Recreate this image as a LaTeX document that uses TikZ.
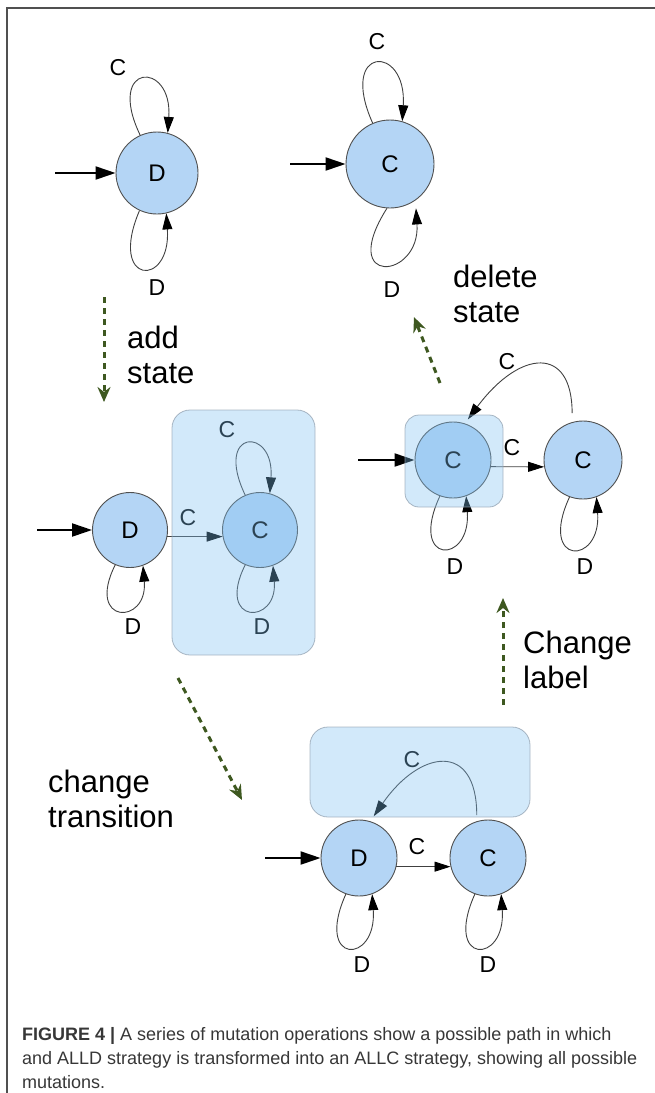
\documentclass[tikz,border=0pt]{standalone}
\usepackage{fontspec}
\setmainfont{Liberation Sans}
\usetikzlibrary{arrows.meta}

\definecolor{statefill}{RGB}{180,213,245}
\definecolor{stateline}{RGB}{80,80,80}
\definecolor{boxfill}{RGB}{126,192,240}
\definecolor{boxline}{RGB}{150,165,180}
\definecolor{movegreen}{RGB}{62,88,32}
\definecolor{captext}{RGB}{55,55,55}
\definecolor{framegray}{RGB}{80,80,80}

\tikzset{
  state/.style={circle,draw=stateline,line width=0.9pt,fill=statefill,inner sep=0pt,minimum size=76pt,font=\fontsize{24}{24}\selectfont},
  tag/.style={inner sep=0pt,font=\fontsize{23}{23}\selectfont},
  edge/.style={draw=black!75,line width=0.9pt,-{Triangle[length=16pt,width=10pt,color=black]}},
  start/.style={line width=2pt,-{Triangle[length=20pt,width=13pt]}},
  move/.style={draw=movegreen,line width=3pt,dash pattern=on 6pt off 5pt,-{Stealth[length=15pt,width=13pt,inset=5pt]}},
  oplabel/.style={inner sep=0pt,align=left,anchor=base west,font=\fontsize{31}{35}\selectfont},
  hilite/.style={draw=boxline,fill=boxfill,fill opacity=0.35,draw opacity=0.8,line width=0.8pt,rounded corners=18pt},
  caption/.style={inner sep=0pt,anchor=north west,align=left,text=captext,font=\fontsize{18}{24}\selectfont},
  frame/.style={draw=framegray,line width=1.5pt}
}

\begin{document}
\begin{tikzpicture}[x=1pt,y=-1pt]
\useasboundingbox (0,0) rectangle (655,1093);
\draw[frame] (7,1093) -- (7,8) -- (655,8);

\node[state,minimum size=82pt] (aD) at (157,173) {D};
\node[state,minimum size=88pt] (eC) at (390,164) {C};
\node[state,minimum size=75pt] (bD) at (130,530) {D};
\node[state,minimum size=75pt] (bC) at (260,530) {C};
\node[state] (dC1) at (453,460) {C};
\node[state,minimum size=78pt] (dC2) at (583,460) {C};
\node[state] (cD) at (359,858) {D};
\node[state] (cC) at (488,858) {C};

\coordinate (aIn) at (55,173);
\coordinate (eIn) at (290,164);
\coordinate (bIn) at (37,530);
\coordinate (dIn) at (358,460);
\coordinate (cIn) at (265,858);
\draw[start] (aIn) -- (aD);
\draw[start] (eIn) -- (eC);
\draw[start] (bIn) -- (bD);
\draw[start] (dIn) -- (dC1);
\draw[start] (cIn) -- (cD);

\draw[edge] (aD.114) .. controls +(-35,-73) and +(5,-73) .. (aD.75);
\draw[edge] (aD.245) .. controls +(-32,75) and +(5,75) .. (aD.283);
\draw[edge] (eC.113) .. controls +(-35,-78) and +(5,-78) .. (eC.74);
\draw[edge,shorten >=8pt] (eC.266) .. controls +(-50,79) and +(5,79) .. (eC.305);
\draw[edge] (bD.247) .. controls +(-30,60) and +(5,60) .. (bD.290);
\draw[edge] (bC.113) .. controls +(-32,-67) and +(5,-67) .. (bC.75);
\draw[edge] (bC.247) .. controls +(-30,60) and +(5,60) .. (bC.290);
\draw[edge] (dC1.250) .. controls +(-32,69) and +(5,69) .. (dC1.290);
\draw[edge] (dC2.250) .. controls +(-32,69) and +(5,69) .. (dC2.290);
\draw[edge] (cD.250) .. controls +(-32,71) and +(5,71) .. (cD.290);
\draw[edge] (cC.250) .. controls +(-32,71) and +(5,71) .. (cC.290);

\draw[edge] (bD.-10) -- (bC.190);
\draw[edge] (dC1.-10) -- (dC2.190);
\draw[edge] (cD.-13) -- (cC.193);
\draw[edge,shorten <=9pt,shorten >=5pt] (dC2.106) .. controls +(0,-77) and +(55,-74) .. (dC1.72);
\draw[edge,shorten <=6pt,shorten >=6pt] (cC.107) .. controls +(0,-80) and +(50,-72) .. (cD.73);

\node[tag] (aDc) at (118,68) {C};
\node[tag] (aDd) at (157,288) {D};
\node[tag] (eCc) at (377,42) {C};
\node[tag] (eCd) at (392,290) {D};
\node[tag] (bDd) at (133,627) {D};
\node[tag] (bDC) at (188,518) {C};
\node[tag] (bCc) at (227,430) {C};
\node[tag] (bCd) at (262,627) {D};
\node[tag] (dC1d) at (455,567) {D};
\node[tag] (dC2d) at (585,567) {D};
\node[tag] (dCC) at (512,448) {C};
\node[tag] (dCb) at (507,362) {C};
\node[tag] (cDd) at (362,965) {D};
\node[tag] (cCd) at (488,965) {D};
\node[tag] (cDC) at (417,847) {C};
\node[tag] (cCb) at (412,760) {C};

\draw[hilite] (172,410) rectangle (315,655);
\draw[hilite,rounded corners=14pt] (405,415) rectangle (503,507);
\draw[hilite] (310,727) rectangle (530,817);

\coordinate (m1a) at (104,297);
\coordinate (m1b) at (104,402);
\coordinate (m2a) at (178,678);
\coordinate (m2b) at (242,800);
\coordinate (m3a) at (503,705);
\coordinate (m3b) at (503,598);
\coordinate (m4a) at (440,383);
\coordinate (m4b) at (414,317);
\draw[move] (m1a) -- (m1b);
\draw[move] (m2a) -- (m2b);
\draw[move] (m3a) -- (m3b);
\draw[move] (m4a) -- (m4b);

\node[oplabel] (addop) at (127,383) {add\\state};
\node[oplabel] (delop) at (453,322) {delete\\state};
\node[oplabel] (lblop) at (523,688) {Change\\label};
\node[oplabel] (trop) at (48,827) {change\\transition};

\node[caption] (cap) at (22,1027) {\textbf{FIGURE 4 |} A series of mutation operations show a possible path in which\\and ALLD strategy is transformed into an ALLC strategy, showing all possible\\mutations.};
\end{tikzpicture}
\end{document}
